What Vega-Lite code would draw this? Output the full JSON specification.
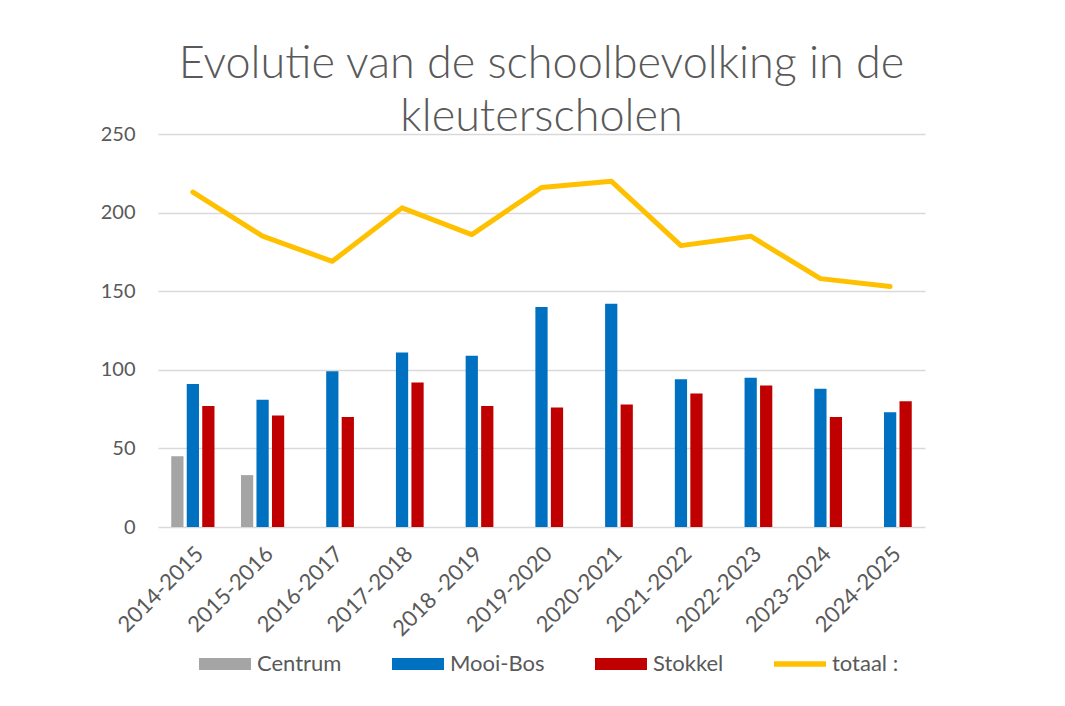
{
  "$schema": "https://vega.github.io/schema/vega-lite/v6.json",
  "width": 767,
  "height": 393,
  "autosize": {"type": "none"},
  "padding": {"left": 158, "top": 134, "right": 140, "bottom": 179},
  "background": "white",
  "title": {
    "text": ["Evolutie van de schoolbevolking in de", "kleuterscholen"],
    "font": "Lato",
    "fontSize": 45,
    "fontWeight": 300,
    "color": "#595959",
    "lineHeight": 53,
    "anchor": "middle",
    "baseline": "alphabetic",
    "offset": -52
  },
  "datasets": {
    "bars": [
      {"year": "2014-2015", "series": "Centrum", "value": 45},
      {"year": "2014-2015", "series": "Mooi-Bos", "value": 91},
      {"year": "2014-2015", "series": "Stokkel", "value": 77},
      {"year": "2015-2016", "series": "Centrum", "value": 33},
      {"year": "2015-2016", "series": "Mooi-Bos", "value": 81},
      {"year": "2015-2016", "series": "Stokkel", "value": 71},
      {"year": "2016-2017", "series": "Mooi-Bos", "value": 99},
      {"year": "2016-2017", "series": "Stokkel", "value": 70},
      {"year": "2017-2018", "series": "Mooi-Bos", "value": 111},
      {"year": "2017-2018", "series": "Stokkel", "value": 92},
      {"year": "2018 -2019", "series": "Mooi-Bos", "value": 109},
      {"year": "2018 -2019", "series": "Stokkel", "value": 77},
      {"year": "2019-2020", "series": "Mooi-Bos", "value": 140},
      {"year": "2019-2020", "series": "Stokkel", "value": 76},
      {"year": "2020-2021", "series": "Mooi-Bos", "value": 142},
      {"year": "2020-2021", "series": "Stokkel", "value": 78},
      {"year": "2021-2022", "series": "Mooi-Bos", "value": 94},
      {"year": "2021-2022", "series": "Stokkel", "value": 85},
      {"year": "2022-2023", "series": "Mooi-Bos", "value": 95},
      {"year": "2022-2023", "series": "Stokkel", "value": 90},
      {"year": "2023-2024", "series": "Mooi-Bos", "value": 88},
      {"year": "2023-2024", "series": "Stokkel", "value": 70},
      {"year": "2024-2025", "series": "Mooi-Bos", "value": 73},
      {"year": "2024-2025", "series": "Stokkel", "value": 80}
    ],
    "totals": [
      {"year": "2014-2015", "total": 213},
      {"year": "2015-2016", "total": 185},
      {"year": "2016-2017", "total": 169},
      {"year": "2017-2018", "total": 203},
      {"year": "2018 -2019", "total": 186},
      {"year": "2019-2020", "total": 216},
      {"year": "2020-2021", "total": 220},
      {"year": "2021-2022", "total": 179},
      {"year": "2022-2023", "total": 185},
      {"year": "2023-2024", "total": 158},
      {"year": "2024-2025", "total": 153}
    ]
  },
  "config": {
    "view": {"stroke": null},
    "font": "Lato"
  },
  "layer": [
    {
      "data": {"name": "bars"},
      "mark": {"type": "bar"},
      "encoding": {
        "x": {
          "field": "year",
          "type": "nominal",
          "scale": {
            "domain": ["2014-2015", "2015-2016", "2016-2017", "2017-2018", "2018 -2019", "2019-2020", "2020-2021", "2021-2022", "2022-2023", "2023-2024", "2024-2025"],
            "paddingInner": 0.38,
            "paddingOuter": 0.19
          },
          "axis": {
            "title": null,
            "domain": false,
            "ticks": false,
            "labelAngle": -45,
            "labelFont": "Lato",
            "labelFontSize": 22,
            "labelColor": "#595959",
            "labelPadding": 16
          }
        },
        "xOffset": {
          "field": "series",
          "type": "nominal",
          "scale": {"domain": ["Centrum", "Mooi-Bos", "Stokkel"], "paddingInner": 0.21}
        },
        "y": {
          "field": "value",
          "type": "quantitative",
          "scale": {"domain": [0, 250], "nice": false},
          "axis": {
            "title": null,
            "values": [0, 50, 100, 150, 200, 250],
            "domain": false,
            "ticks": false,
            "grid": true,
            "gridColor": "#d9d9d9",
            "gridWidth": 1.5,
            "labelFont": "Lato",
            "labelFontSize": 20,
            "labelColor": "#595959",
            "labelPadding": 23
          }
        },
        "color": {
          "field": "series",
          "type": "nominal",
          "scale": {
            "domain": ["Centrum", "Mooi-Bos", "Stokkel", "totaal :"],
            "range": ["#a5a5a5", "#0070c0", "#c00000", "#ffc000"]
          },
          "legend": {
            "orient": "none",
            "legendX": 41,
            "legendY": 518,
            "direction": "horizontal",
            "title": null,
            "labelFont": "Lato",
            "labelFontSize": 22,
            "labelColor": "#595959",
            "symbolSize": 576,
            "labelOffset": 34,
            "columnPadding": 50,
            "encode": {
              "symbols": {
                "update": {
                  "shape": {"signal": "datum.label == 'totaal :' ? 'M-1,-0.22H3.333V0.22H-1Z' : 'M-1,-0.5H3.333V0.5H-1Z'"},
                  "fill": {"scale": "color", "field": "value"},
                  "stroke": {"value": "transparent"},
                  "strokeWidth": {"value": 0},
                  "opacity": {"value": 1}
                }
              }
            }
          }
        }
      }
    },
    {
      "data": {"name": "totals"},
      "mark": {"type": "line", "strokeWidth": 5, "strokeCap": "round", "strokeJoin": "round"},
      "encoding": {
        "x": {"field": "year", "type": "nominal"},
        "y": {"field": "total", "type": "quantitative"},
        "color": {"datum": "totaal :"}
      }
    }
  ]
}
